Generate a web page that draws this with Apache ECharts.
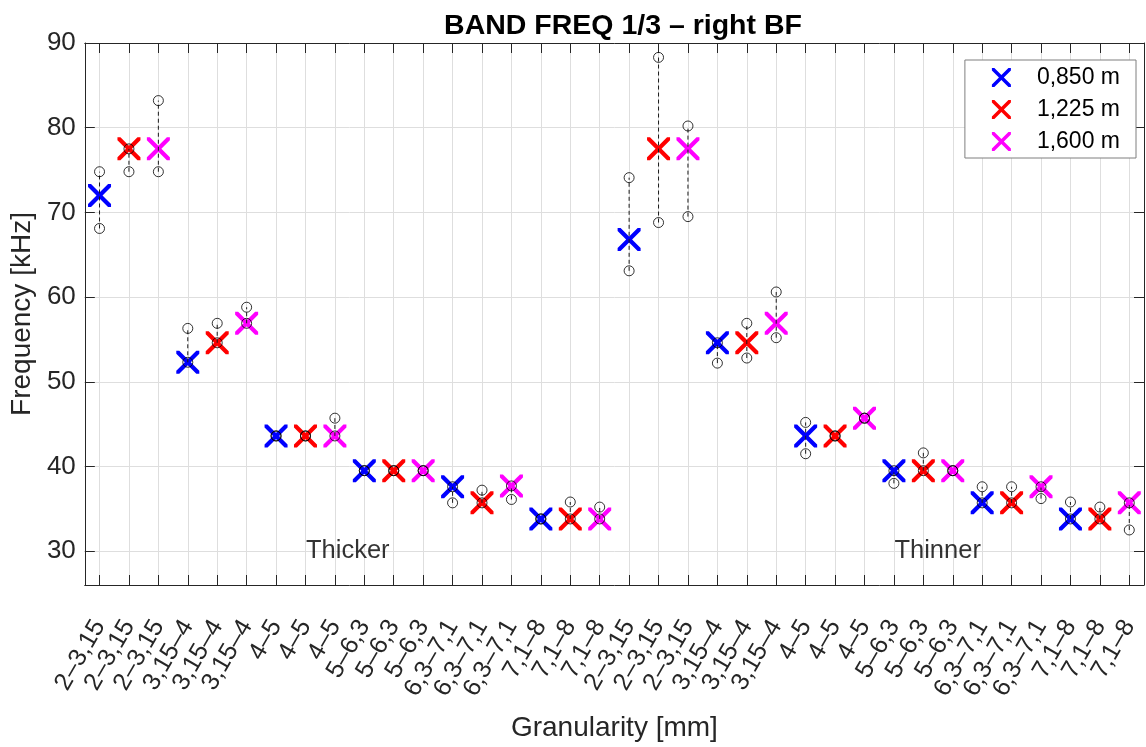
<!DOCTYPE html>
<html>
<head>
<meta charset="utf-8">
<script src="https://cdn.jsdelivr.net/npm/echarts@6/dist/echarts.min.js"></script>
<style>
html,body{margin:0;padding:0;background:#fff;}
#chart{width:1146px;height:747px;}
</style>
</head>
<body>
<div id="chart"></div>
<script>
// ---------------- DATA ----------------
const granularity = ['2–3,15', '3,15–4', '4–5', '5–6,3', '6,3–7,1', '7,1–8'];
const groupNames = ['Thicker', 'Thinner'];
const distanceNames = ['0,850 m', '1,225 m', '1,600 m'];

// mean band frequency [kHz]: 6 Thicker values then 6 Thinner values
const mean_0850 = [72.0, 52.3, 43.6, 39.5, 37.6, 33.8,   66.8, 54.6, 43.6, 39.5, 35.7, 33.8];
const mean_1225 = [77.5, 54.6, 43.6, 39.5, 35.7, 33.8,   77.5, 54.6, 43.6, 39.5, 35.7, 33.8];
const mean_1600 = [77.5, 56.9, 43.6, 39.5, 37.7, 33.8,   77.5, 56.9, 45.7, 39.5, 37.6, 35.7];

// min / max [kHz]
const min_0850 = [68.1, 52.3, 43.6, 39.5, 35.7, 33.8,   63.1, 52.2, 41.5, 38.0, 35.7, 33.8];
const max_0850 = [74.8, 56.3, 43.6, 39.5, 37.6, 33.8,   74.1, 54.6, 45.2, 39.5, 37.6, 35.8];
const min_1225 = [74.8, 54.6, 43.6, 39.5, 35.7, 33.8,   68.8, 52.8, 43.6, 39.5, 35.7, 33.8];
const max_1225 = [77.5, 56.9, 43.6, 39.5, 37.2, 35.8,   88.3, 56.9, 43.6, 41.6, 37.6, 35.2];
const min_1600 = [74.8, 56.9, 43.6, 39.5, 36.1, 33.8,   69.5, 55.2, 45.7, 39.5, 36.2, 32.5];
const max_1600 = [83.2, 58.8, 45.7, 39.5, 37.7, 35.2,   80.2, 60.6, 45.7, 39.5, 37.6, 35.7];

const yTicks = [30, 40, 50, 60, 70, 80, 90];

// text annotations (data coordinates: category index, frequency)
const annotations = [
  { cat: 7, freq: 30, text: 'Thicker' },
  { cat: 27, freq: 30, text: 'Thinner' }
];

// ---------------- BUILD ----------------
const means = [mean_0850, mean_1225, mean_1600];
const mins = [min_0850, min_1225, min_1600];
const maxs = [max_0850, max_1225, max_1600];
const colors = ['#0000ff', '#ff0000', '#ff00ff'];
const FONT = "'Liberation Sans', Arial, Helvetica, sans-serif";
const AXC = '#262626';
const GRIDC = '#dedede';
const XPATH = 'path://M0,0 L2.6,0 L10,7.4 L17.4,0 L20,0 L20,2.6 L12.6,10 L20,17.4 L20,20 L17.4,20 L10,12.6 L2.6,20 L0,20 L0,17.4 L7.4,10 L0,2.6 Z';

const tickLabels = [];
groupNames.forEach(() => {
  granularity.forEach(g => {
    distanceNames.forEach(() => tickLabels.push(g));
  });
});
const nG = granularity.length, nD = distanceNames.length;
const idxOf = (g, k, d) => g * nG * nD + k * nD + d;

const series = [];
distanceNames.forEach((name, d) => {
  const data = [];
  groupNames.forEach((_, g) => {
    granularity.forEach((_, k) => {
      data.push([idxOf(g, k, d), means[d][g * nG + k]]);
    });
  });
  series.push({
    name: name, type: 'scatter', data: data,
    symbol: XPATH, symbolSize: 23,
    itemStyle: { color: colors[d], opacity: 1 },
    z: 2, silent: true
  });
});

const rangeData = [], circleData = [];
distanceNames.forEach((_, d) => {
  groupNames.forEach((_, g) => {
    granularity.forEach((_, k) => {
      const i = idxOf(g, k, d), j = g * nG + k;
      rangeData.push([i, mins[d][j], maxs[d][j]]);
      circleData.push([i, mins[d][j]]);
      circleData.push([i, maxs[d][j]]);
    });
  });
});

series.push({
  name: 'range', type: 'custom', data: rangeData, z: 3, silent: true,
  encode: { x: 0, y: [1, 2] },
  renderItem: function (params, api) {
    const p1 = api.coord([api.value(0), api.value(1)]);
    const p2 = api.coord([api.value(0), api.value(2)]);
    return {
      type: 'line',
      shape: { x1: p1[0], y1: p1[1], x2: p2[0], y2: p2[1] },
      style: { stroke: '#1a1a1a', lineWidth: 1, lineDash: [4, 3] }
    };
  }
});

series.push({
  name: 'minmax', type: 'scatter', data: circleData, z: 4, silent: true,
  symbol: 'circle', symbolSize: 10,
  itemStyle: { color: 'rgba(0,0,0,0)', borderColor: '#000', borderWidth: 1 }
});

series.push({
  name: 'annot', type: 'scatter', z: 5, silent: true,
  data: annotations.map(a => ({ value: [a.cat, a.freq], name: a.text })),
  symbolSize: 1, itemStyle: { color: 'rgba(0,0,0,0)' },
  label: {
    show: true, position: 'right', distance: 0, formatter: '{b}',
    fontFamily: FONT, fontSize: 25.5, color: '#000'
  }
});

const chart = echarts.init(document.getElementById('chart'));
chart.setOption({
  animation: false,
  backgroundColor: '#ffffff',
  title: {
    text: 'BAND FREQ 1/3 – right BF',
    left: 618, top: 7, textAlign: 'center',
    textStyle: { fontFamily: FONT, fontSize: 28.5, fontWeight: 'bold', color: '#000' }
  },
  legend: {
    data: distanceNames,
    orient: 'vertical', right: 10, top: 60,
    padding: [6, 16, 5, 27],
    itemWidth: 19, itemHeight: 19, itemGap: 9,
    borderColor: '#7f7f7f', borderWidth: 1, backgroundColor: '#ffffff',
    textStyle: { fontFamily: FONT, fontSize: 23, color: '#000', padding: [0, 0, 0, 21] }
  },
  grid: { left: 84, right: 2, top: 43, bottom: 158, containLabel: false },
  xAxis: [
    {
      type: 'category', data: tickLabels, position: 'bottom', boundaryGap: true,
      axisLine: { show: true, onZero: false, lineStyle: { color: AXC, width: 1 } },
      axisTick: { show: true, inside: true, alignWithLabel: true, interval: 0, length: 10, lineStyle: { color: AXC } },
      axisLabel: { interval: 0, rotate: 60, margin: 37, fontFamily: FONT, fontSize: 25, color: AXC },
      splitLine: { show: true, alignWithLabel: true, interval: 0, lineStyle: { color: GRIDC, width: 1 } },
      name: 'Granularity [mm]', nameLocation: 'middle', nameGap: 129,
      nameTextStyle: { fontFamily: FONT, fontSize: 28, color: AXC }
    },
    {
      type: 'category', data: tickLabels, position: 'top', boundaryGap: true,
      axisLine: { show: true, onZero: false, lineStyle: { color: AXC, width: 1 } },
      axisTick: { show: true, inside: true, alignWithLabel: true, interval: 0, length: 10, lineStyle: { color: AXC } },
      axisLabel: { show: false },
      splitLine: { show: false }
    }
  ],
  yAxis: [
    {
      type: 'value', min: 26, max: 90, position: 'left',
      axisLine: { show: true, onZero: false, lineStyle: { color: AXC, width: 1 } },
      axisTick: { show: true, inside: true, length: 10, lineStyle: { color: AXC } },
      axisLabel: {
        margin: 9, fontFamily: FONT, fontSize: 26, color: AXC,
        formatter: v => (yTicks.indexOf(v) >= 0 ? String(v) : '')
      },
      splitLine: { show: true, lineStyle: { color: GRIDC, width: 1 } },
      name: 'Frequency [kHz]', nameLocation: 'middle', nameGap: 45, nameRotate: 90,
      nameTextStyle: { fontFamily: FONT, fontSize: 28, color: AXC }
    },
    {
      type: 'value', min: 26, max: 90, position: 'right',
      axisLine: { show: true, onZero: false, lineStyle: { color: AXC, width: 1 } },
      axisTick: { show: true, inside: true, length: 10, lineStyle: { color: AXC } },
      axisLabel: { show: false },
      splitLine: { show: false }
    }
  ],
  series: series
});
</script>
</body>
</html>
